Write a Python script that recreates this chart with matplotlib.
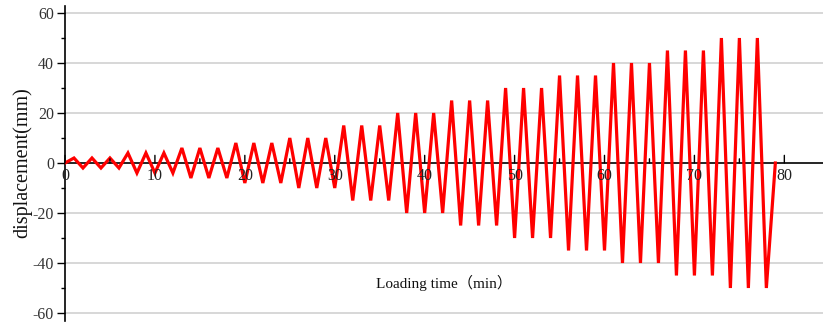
import matplotlib
matplotlib.use("Agg")
import matplotlib.pyplot as plt
from matplotlib.ticker import MultipleLocator

# Cyclic loading protocol: three cycles per amplitude level, 2 min per cycle
amplitudes = [2, 4, 6, 8, 10, 15, 20, 25, 30, 35, 40, 45, 50]   # mm
cycles_per_level = 3
half_period = 1.0   # min between a peak and the following trough

# Build the peak/trough sequence of the protocol
times = [0.0]
disp = [0.0]
t = 0.0
for amp in amplitudes:
    for _ in range(cycles_per_level):
        t += half_period
        times.append(t); disp.append(amp)
        t += half_period
        times.append(t); disp.append(-amp)
t += half_period
times.append(t); disp.append(0.0)

x_major = list(range(0, 81, 10))
x_minor = list(range(5, 81, 10))

serif = ["Liberation Serif", "Noto Sans CJK SC", "DejaVu Sans"]
plt.rcParams["font.family"] = serif
plt.rcParams["axes.unicode_minus"] = False

fig = plt.figure(figsize=(8.23, 3.24), dpi=100)
ax = fig.add_axes([65 / 823, 3.5 / 324, 758 / 823, 315 / 324])

ax.plot(times, disp, color="#ff0000", lw=2.3, solid_joinstyle="miter", zorder=3)

ax.set_xlim(0, 84.3)
ax.set_ylim(-63, 63)

# Horizontal grid
for y in range(-60, 61, 20):
    if y != 0:
        ax.axhline(y, color="#d4d4d4", lw=1.3, zorder=1)

# Spines: left vertical axis, x-axis through zero
for s in ["top", "right", "bottom"]:
    ax.spines[s].set_visible(False)
ax.spines["left"].set_linewidth(1.2)
ax.axhline(0, color="black", lw=1.2, zorder=2)

ax.yaxis.set_major_locator(MultipleLocator(20))
ax.yaxis.set_minor_locator(MultipleLocator(10))
ax.tick_params(axis="y", which="major", direction="out", length=6, width=1.0,
               labelsize=11.5, labelcolor="#333333", pad=2)
ax.tick_params(axis="y", which="minor", direction="out", length=3, width=1.0)

# X ticks: marks above the zero line, labels below it
ax.xaxis.set_visible(False)
for x in x_major:
    ax.annotate("", xy=(x, 0), xytext=(0, 5.5), textcoords="offset points",
                arrowprops=dict(arrowstyle="-", color="black", lw=1.0,
                                shrinkA=0, shrinkB=0))
    ax.annotate(str(x), xy=(x, 0), xytext=(0, -3.5), textcoords="offset points",
                ha="center", va="top", fontsize=11.5, color="#222222")
for x in x_minor:
    ax.annotate("", xy=(x, 0), xytext=(0, 3), textcoords="offset points",
                arrowprops=dict(arrowstyle="-", color="black", lw=1.0,
                                shrinkA=0, shrinkB=0))

fig.text(22 / 823, 1 - 163 / 324, "displacement(mm)", rotation=90,
         ha="center", va="center", fontsize=14.5, color="#111111")
fig.text(444 / 823, 1 - 283 / 324, "Loading time（min）",
         ha="center", va="center", fontsize=11, color="#111111", family=serif)

fig.savefig("out.png", dpi=100)
